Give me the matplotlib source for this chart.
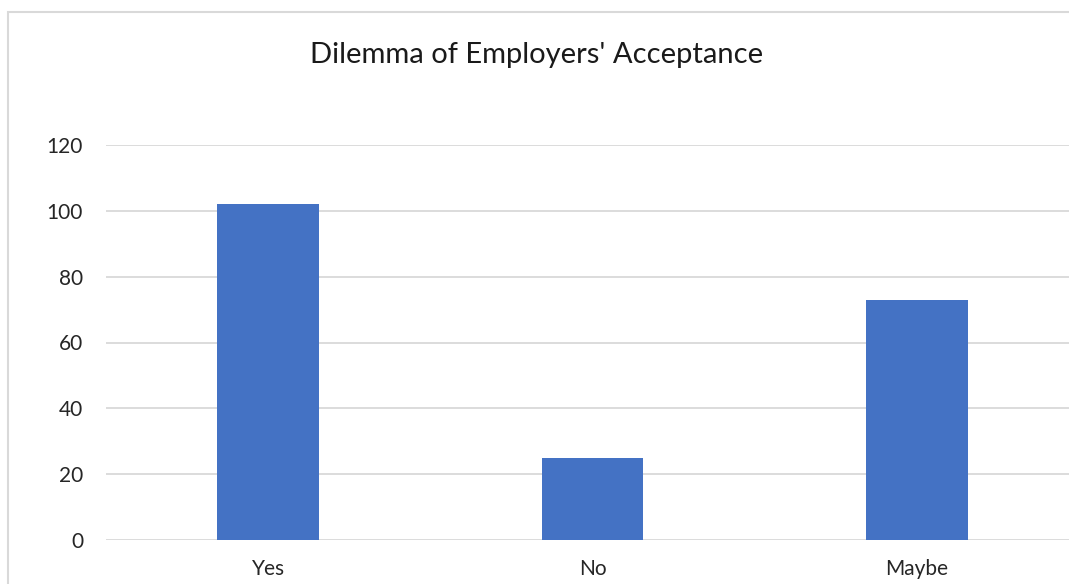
import matplotlib.pyplot as plt
from matplotlib.patches import Rectangle

# data
categories = ['Yes', 'No', 'Maybe']
counts = [102, 25, 73]
y_ticks = [0, 20, 40, 60, 80, 100, 120]
title = "Dilemma of Employers' Acceptance"

W, H = 1069, 584
plt.rcParams['font.family'] = ['Lato', 'DejaVu Sans']

fig = plt.figure(figsize=(W / 100, H / 100), dpi=100)
fig.patch.set_facecolor('white')

# chart border (right and bottom run off the cropped image)
fig.add_artist(Rectangle((7.5 / W, -0.1), 1.2, 1 - 11.5 / H + 0.1,
                         transform=fig.transFigure, fill=False,
                         edgecolor='#d9d9d9', linewidth=1.5, clip_on=False))

# plot area in pixels: left 106, right 1079, top 145, bottom 540
ax = fig.add_axes([106 / W, 1 - 540 / H, 973 / W, 395 / H])
ax.set_facecolor('none')

x = list(range(len(categories)))
ax.bar(x, counts, width=0.314, color='#4472C4', zorder=3)

ax.set_xlim(-0.5, len(categories) - 0.5)
ax.set_ylim(0, 120)
ax.set_yticks(y_ticks)
ax.set_xticks(x)
ax.set_xticklabels(categories)

ax.grid(axis='y', color='#d9d9d9', linewidth=1.3, zorder=0)
for s in ax.spines.values():
    s.set_visible(False)
ax.tick_params(axis='both', length=0, labelcolor='#262626', labelsize=15)
ax.tick_params(axis='y', pad=16.5)
ax.tick_params(axis='x', pad=14)

fig.text(537 / W, 1 - 63 / H, title, ha='center', va='baseline',
         fontsize=21, color='#1a1a1a')

fig.savefig('out.png', dpi=100)
